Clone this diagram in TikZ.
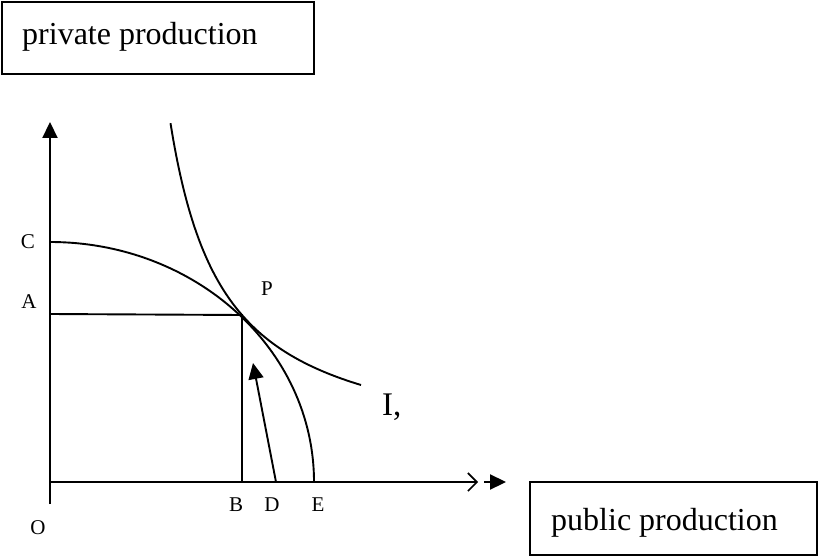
\documentclass[tikz,border=0pt]{standalone}
\usepackage{fontspec}
\setmainfont{Liberation Serif}
\usetikzlibrary{arrows.meta}
\begin{document}
\begin{tikzpicture}[x=1pt,y=-1pt,
  ptlbl/.style={font=\fontsize{21}{23}\selectfont,inner sep=0pt},
  axis/.style={line width=2.2pt},
  curve/.style={line width=1.9pt},
  filltip/.style={-{Triangle[length=16pt,width=15pt]}}]
\useasboundingbox (0,0) rectangle (818,556);
% boxes
\draw[line width=2pt] (2,2) rectangle (314,74);
\node[anchor=base west,font=\fontsize{32}{36}\selectfont,inner sep=0pt] (priv) at (22,45) {private production};
\draw[line width=2pt] (530,482) rectangle (817,555);
\node[anchor=base west,font=\fontsize{32}{36}\selectfont,inner sep=0pt] (pub) at (551,530) {public production};
% key coordinates
\coordinate (O) at (50,482);
\coordinate (Otop) at (50,504);
\coordinate (Ytip) at (50,122);
\coordinate (C) at (50,242);
\coordinate (A) at (50,314);
\coordinate (P) at (242,315);
\coordinate (B) at (242,482);
\coordinate (D) at (276,482);
\coordinate (E) at (314,482);
\coordinate (Xopen) at (478,482);
\coordinate (Xs) at (484,482);
\coordinate (Xtip) at (506,482);
\coordinate (Dtip) at (253,363);
% axes
\draw[axis,filltip] (Otop) -- (Ytip);
\draw[axis,-{Straight Barb[length=9pt,width=18pt,line width=1.6pt]}] (O) -- (Xopen);
\draw[axis,filltip] (Xs) -- (Xtip);
% lines
\draw[curve] (A) -- (P) -- (B);
% PPF
\draw[curve] (C) arc[start angle=90,end angle=0,x radius=264,y radius=-240];
% indifference curve
\draw[curve,domain=170.5:361,samples=80,smooth] plot (\x,{458.5-179.37/((\x-117)/100)});
% arrow from D
\draw[line width=1.9pt,filltip] (D) -- (Dtip);
% labels
\node[ptlbl] (lC) at (28,242) {C};
\node[ptlbl] (lA) at (29,302) {A};
\node[ptlbl] (lP) at (267,289) {P};
\node[ptlbl] (lB) at (236,505) {B};
\node[ptlbl] (lD) at (272,505) {D};
\node[ptlbl] (lE) at (318,505) {E};
\node[ptlbl] (lO) at (38,528) {O};
\node[anchor=base west,font=\fontsize{33}{36}\selectfont,inner sep=0pt] (lI) at (382,415) {I,};
\end{tikzpicture}
\end{document}
